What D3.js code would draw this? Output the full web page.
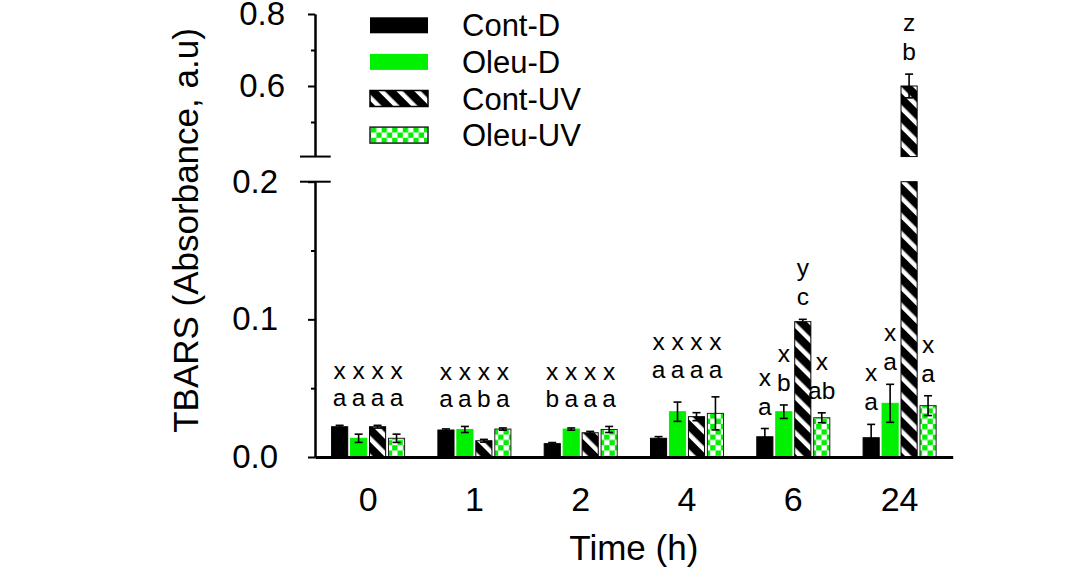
<!DOCTYPE html>
<html><head><meta charset="utf-8">
<script src="https://cdn.jsdelivr.net/npm/d3@7"></script>
<style>
body{margin:0;background:#fff}
svg{display:block}
text{font-family:"Liberation Sans",Arial,Helvetica,sans-serif;fill:#000}
</style>
</head><body>
<svg id="chart" width="1080" height="567"></svg>
<script>
// ---------- data ----------
const times = ["0", "1", "2", "4", "6", "24"];
const seriesNames = ["Cont-D", "Oleu-D", "Cont-UV", "Oleu-UV"];
const contD      = [0.0220, 0.0196, 0.0097, 0.0136, 0.0147, 0.0140];
const contDErr   = [0.0010, 0.0008, 0.0008, 0.0012, 0.0060, 0.0097];
const oleuD      = [0.0136, 0.0200, 0.0203, 0.0329, 0.0329, 0.0390];
const oleuDErr   = [0.0030, 0.0022, 0.0008, 0.0070, 0.0049, 0.0138];
const contUV     = [0.0220, 0.0118, 0.0176, 0.0293, 0.0983, 0.6000];
const contUVErr  = [0.0010, 0.0010, 0.0010, 0.0029, 0.0017, 0.0330];
const oleuUV     = [0.0136, 0.0203, 0.0200, 0.0317, 0.0285, 0.0373];
const oleuUVErr  = [0.0030, 0.0008, 0.0022, 0.0120, 0.0036, 0.0072];
// significance letters (upper row = time comparison, lower row = treatment comparison)
const contDUpper  = ["x", "x", "x", "x", "x", "x"];
const oleuDUpper  = ["x", "x", "x", "x", "x", "x"];
const contUVUpper = ["x", "x", "x", "x", "y", "z"];
const oleuUVUpper = ["x", "x", "x", "x", "x", "x"];
const contDLower  = ["a", "a", "b", "a", "a", "a"];
const oleuDLower  = ["a", "a", "a", "a", "b", "a"];
const contUVLower = ["a", "b", "a", "a", "c", "b"];
const oleuUVLower = ["a", "a", "a", "a", "ab", "a"];
const perBarLetterTimes = ["6", "24"];
const lowerTicksMajor = [0, 0.1, 0.2];
const lowerTicksMinor = [0.05, 0.15];
const upperTicksMajor = [0.6, 0.8];
const upperTicksMinor = [0.5, 0.7];
const lowerDomain = [0, 0.2];
const upperDomain = [0.4, 0.8];
const upperBreakValue = 0.404;
const xTitle = "Time (h)";
const yTitle = "TBARS (Absorbance, a.u)";

const values = [contD, oleuD, contUV, oleuUV];
const errors = [contDErr, oleuDErr, contUVErr, oleuUVErr];
const upperLetters = [contDUpper, oleuDUpper, contUVUpper, oleuUVUpper];
const lowerLetters = [contDLower, oleuDLower, contUVLower, oleuUVLower];

// ---------- layout ----------
const GREEN = "#00f000";
const axisX = 315, xEnd = 952.7;
const svg = d3.select("#chart");

const yLow = d3.scaleLinear().domain(lowerDomain).range([457, 181.7]);
const yUp = d3.scaleLinear().domain(upperDomain).range([158, 14]);
const x0 = d3.scaleBand().domain(times).range([axisX, xEnd]).paddingInner(0.313).paddingOuter(0.156);
const x1 = d3.scaleBand().domain(seriesNames).range([0, x0.bandwidth()]).paddingInner(0.15).paddingOuter(0);

// ---------- patterns ----------
const defs = svg.append("defs");
const stripes = defs.append("pattern").attr("id", "stripes").attr("patternUnits", "userSpaceOnUse")
  .attr("width", 12.7).attr("height", 12.7).attr("patternTransform", "rotate(-45)");
stripes.append("rect").attr("width", 12.7).attr("height", 12.7).attr("fill", "#000");
stripes.append("rect").attr("x", 0).attr("width", 4.5).attr("height", 12.7).attr("fill", "#fff");

const cs = 5.3;
const checker = defs.append("pattern").attr("id", "checker").attr("patternUnits", "userSpaceOnUse")
  .attr("width", cs * 2).attr("height", cs * 2);
checker.append("rect").attr("width", cs * 2).attr("height", cs * 2).attr("fill", "#fff");
checker.append("rect").attr("width", cs).attr("height", cs).attr("fill", GREEN);
checker.append("rect").attr("x", cs).attr("y", cs).attr("width", cs).attr("height", cs).attr("fill", GREEN);

const fills = ["#000", GREEN, "url(#stripes)", "url(#checker)"];
const strokes = ["#000", GREEN, "#000", "#222"];

// ---------- bars ----------
const lowMax = lowerDomain[1];
const gBars = svg.append("g");
times.forEach((t, gi) => {
  seriesNames.forEach((s, si) => {
    const v = values[si][gi];
    const bx = x0(t) + x1(s), bw = x1.bandwidth();
    const vTopLow = Math.min(v, lowMax);
    gBars.append("rect")
      .attr("x", bx).attr("y", yLow(vTopLow))
      .attr("width", bw).attr("height", yLow(0) - yLow(vTopLow))
      .attr("fill", fills[si]).attr("stroke", strokes[si]).attr("stroke-width", 1);
    if (v > upperBreakValue) {
      gBars.append("rect")
        .attr("x", bx).attr("y", yUp(v))
        .attr("width", bw).attr("height", yUp(upperBreakValue) - yUp(v))
        .attr("fill", fills[si]).attr("stroke", strokes[si]).attr("stroke-width", 1);
    }
  });
});

// ---------- error bars ----------
function errTopY(si, gi) {
  const v = values[si][gi], e = errors[si][gi];
  return v > lowMax ? yUp(v + e) : yLow(v + e);
}
const gErr = svg.append("g").attr("stroke", "#000").attr("stroke-width", 1.6);
times.forEach((t, gi) => {
  seriesNames.forEach((s, si) => {
    const v = values[si][gi], e = errors[si][gi];
    const sc = v > lowMax ? yUp : yLow;
    const cx = x0(t) + x1(s) + x1.bandwidth() / 2;
    const yt = sc(v + e), yb = sc(v - e);
    gErr.append("line").attr("x1", cx).attr("x2", cx).attr("y1", yt).attr("y2", yb);
    gErr.append("line").attr("x1", cx - 4).attr("x2", cx + 4).attr("y1", yt).attr("y2", yt);
    gErr.append("line").attr("x1", cx - 4).attr("x2", cx + 4).attr("y1", yb).attr("y2", yb);
  });
});

// ---------- letters ----------
const gLet = svg.append("g").style("font-size", "24.5px").attr("text-anchor", "middle");
times.forEach((t, gi) => {
  const perBar = perBarLetterTimes.includes(t);
  const groupTop = d3.min(seriesNames, (s, si) => errTopY(si, gi));
  seriesNames.forEach((s, si) => {
    const cx = x0(t) + x1(s) + x1.bandwidth() / 2;
    const base = perBar ? errTopY(si, gi) - 14 : groupTop - 19;
    const gap = perBar ? 29 : 27.5;
    gLet.append("text").attr("x", cx).attr("y", base - gap).text(upperLetters[si][gi]);
    gLet.append("text").attr("x", cx).attr("y", base).text(lowerLetters[si][gi]);
  });
});

// ---------- axes ----------
const gAx = svg.append("g");
function styleAxis(g) {
  g.selectAll("path,line").attr("stroke", "#000").attr("stroke-width", 2);
  g.selectAll("text").style("font-size", "33px").attr("font-family", null);
}
// lower segment
gAx.append("g").attr("transform", `translate(${axisX},0)`)
  .call(d3.axisLeft(yLow).tickValues(lowerTicksMajor).tickSize(7).tickSizeOuter(0).tickPadding(30).tickFormat(d3.format(".1f")))
  .call(styleAxis);
gAx.append("g").attr("transform", `translate(${axisX},0)`)
  .call(d3.axisLeft(yLow).tickValues(lowerTicksMinor).tickSize(4).tickSizeOuter(0).tickFormat(""))
  .call(styleAxis);
// upper segment
const yUpAxis = yUp.copy().domain([upperBreakValue, upperDomain[1]]).range([yUp(upperBreakValue), yUp(upperDomain[1])]);
gAx.append("g").attr("transform", `translate(${axisX},0)`)
  .call(d3.axisLeft(yUpAxis).tickValues(upperTicksMajor).tickSize(7).tickSizeOuter(0).tickPadding(23).tickFormat(d3.format(".1f")))
  .call(styleAxis);
gAx.append("g").attr("transform", `translate(${axisX},0)`)
  .call(d3.axisLeft(yUpAxis).tickValues(upperTicksMinor).tickSize(4).tickSizeOuter(0).tickFormat(""))
  .call(styleAxis);
// break marks
[yUp(upperBreakValue), yLow(lowMax)].forEach(yy => {
  gAx.append("line").attr("x1", axisX - 15).attr("x2", axisX + 15.7).attr("y1", yy).attr("y2", yy)
    .attr("stroke", "#000").attr("stroke-width", 2);
});
// x axis
const gx = gAx.append("g").attr("transform", `translate(0,${yLow(0)})`)
  .call(d3.axisBottom(x0).tickSize(0).tickSizeOuter(0).tickPadding(30));
gx.select("path").attr("stroke", "#000").attr("stroke-width", 3);
gx.selectAll("text").style("font-size", "34px").attr("font-family", null);

// titles
svg.append("text").attr("x", (axisX + xEnd) / 2).attr("y", 560).attr("text-anchor", "middle")
  .style("font-size", "35px").text(xTitle);
svg.append("text").attr("transform", "translate(197.5,230.5) rotate(-90)").attr("text-anchor", "middle")
  .style("font-size", "35px").text(yTitle);

// ---------- legend ----------
const gLeg = svg.append("g");
seriesNames.forEach((s, si) => {
  const cy = 25.3 + si * 36.6;
  gLeg.append("rect").attr("x", 370).attr("y", cy - 8).attr("width", 58).attr("height", 16)
    .attr("fill", fills[si]).attr("stroke", si >= 2 ? strokes[si] : "none").attr("stroke-width", 1.5);
  gLeg.append("text").attr("x", 462).attr("y", cy + 11).style("font-size", "31px").text(s);
});
</script>
</body></html>
